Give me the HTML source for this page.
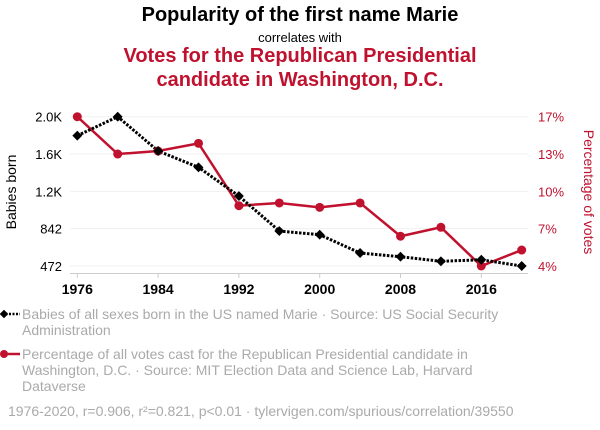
<!DOCTYPE html>
<html><head><meta charset="utf-8"><style>
body{margin:0;width:600px;height:430px;background:#fff;font-family:"Liberation Sans",sans-serif;overflow:hidden}
.t{position:absolute;left:0;width:600px;text-align:center}
.leg{position:absolute;left:22px;width:515px;color:#aaa;font-size:14px;line-height:16px}
</style></head><body>
<div class="t" style="top:4px;font-size:20px;font-weight:bold;color:#000">Popularity of the first name Marie</div>
<div class="t" style="top:30px;font-size:13px;color:#000">correlates with</div>
<div class="t" style="top:44px;font-size:20px;font-weight:bold;color:#c0122f;line-height:24px">Votes for the Republican Presidential<br>candidate in Washington, D.C.</div>
<svg id="c" width="600" height="300" style="position:absolute;left:0;top:0"></svg>
<div class="leg" style="top:306px">Babies of all sexes born in the US named Marie · Source: US Social Security Administration</div>
<div class="leg" style="top:346px">Percentage of all votes cast for the Republican Presidential candidate in Washington, D.C. · Source: MIT Election Data and Science Lab, Harvard Dataverse</div>
<div class="leg" style="left:8px;width:590px;top:403px">1976-2020, r=0.906, r²=0.821, p&lt;0.01 · tylervigen.com/spurious/correlation/39550</div>
<svg width="24" height="100" style="position:absolute;left:0;top:305px">
<line x1="2" y1="9" x2="20" y2="9" stroke="#000" stroke-width="2.5" stroke-dasharray="2,1.5"/><rect x="1" y="6" width="6" height="6" transform="rotate(45 4 9)" fill="#000"/>
<line x1="3" y1="49" x2="20" y2="49" stroke="#c0122f" stroke-width="2.5"/><circle cx="4" cy="49" r="4" fill="#c0122f"/>
</svg>
<script>
const years=[1976,1980,1984,1988,1992,1996,2000,2004,2008,2012,2016,2020];
const marie=[1806,2000,1649,1482,1188,830,792,605,567,520,536,472];
const votes=[17,13.75,14.01,14.68,9.25,9.49,9.11,9.49,6.59,7.37,4,5.39];
const xTicks=[1976,1984,1992,2000,2008,2016];
const leftLabels=["472","842","1.2K","1.6K","2.0K"];
const rightLabels=["4%","7%","10%","13%","17%"];
const lMin=472,lMax=2000,rMin=4,rMax=17;
const x=y=>77.3+(y-1976)*(521.7-77.3)/44;
const yl=v=>266-(v-lMin)/(lMax-lMin)*149.3;
const yr=v=>266-(v-rMin)/(rMax-rMin)*149.3;
const svg=document.getElementById('c');const NS='http://www.w3.org/2000/svg';
function mk(t,a,p){const e=document.createElementNS(NS,t);for(const k in a)e.setAttribute(k,a[k]);(p||svg).appendChild(e);return e;}
for(let i=0;i<5;i++){const yy=266-i*149.3/4;
 const g=mk('line',{x1:70,x2:528,y1:yy,y2:yy,stroke:'#f0f0f0'});
 
 const a=mk('text',{x:62,y:yy+5,'text-anchor':'end','font-size':13,fill:'#000'});a.textContent=leftLabels[i];
 
 const b=mk('text',{x:538,y:yy+5,'font-size':13,fill:'#c0122f'});b.textContent=rightLabels[i];
 }
const ax=mk('line',{x1:70,x2:528,y1:273.5,y2:273.5,stroke:'#ccc'});

xTicks.forEach(t=>{const tk=mk('line',{x1:x(t),x2:x(t),y1:273.5,y2:278,stroke:'#ccc'});
 
 const l=mk('text',{x:x(t),y:294,'text-anchor':'middle','font-size':14,'font-weight':'bold',fill:'#000'});l.textContent=t;
 });
const yt=mk('text',{x:0,y:0,transform:'translate(16,192) rotate(-90)','text-anchor':'middle','font-size':14,fill:'#000'});yt.textContent='Babies born';

const yt2=mk('text',{x:0,y:0,transform:'translate(584,192) rotate(90)','text-anchor':'middle','font-size':14,fill:'#c0122f'});yt2.textContent='Percentage of votes';

const rl=mk('polyline',{points:years.map((y,i)=>x(y)+','+yr(votes[i])).join(' '),fill:'none',stroke:'#c0122f','stroke-width':2.5});

const ml=mk('polyline',{points:years.map((y,i)=>x(y)+','+yl(marie[i])).join(' '),fill:'none',stroke:'#000','stroke-width':3,'stroke-dasharray':'2.5,1.5'});

years.forEach((y,i)=>{const c=mk('circle',{cx:x(y),cy:yr(votes[i]),r:4.5,fill:'#c0122f'});
 });
years.forEach((y,i)=>{const cx=x(y),cy=yl(marie[i]);const d=mk('rect',{x:cx-3.5,y:cy-3.5,width:7,height:7,fill:'#000',transform:`rotate(45 ${cx} ${cy})`});
 });
</script>
</body></html>
